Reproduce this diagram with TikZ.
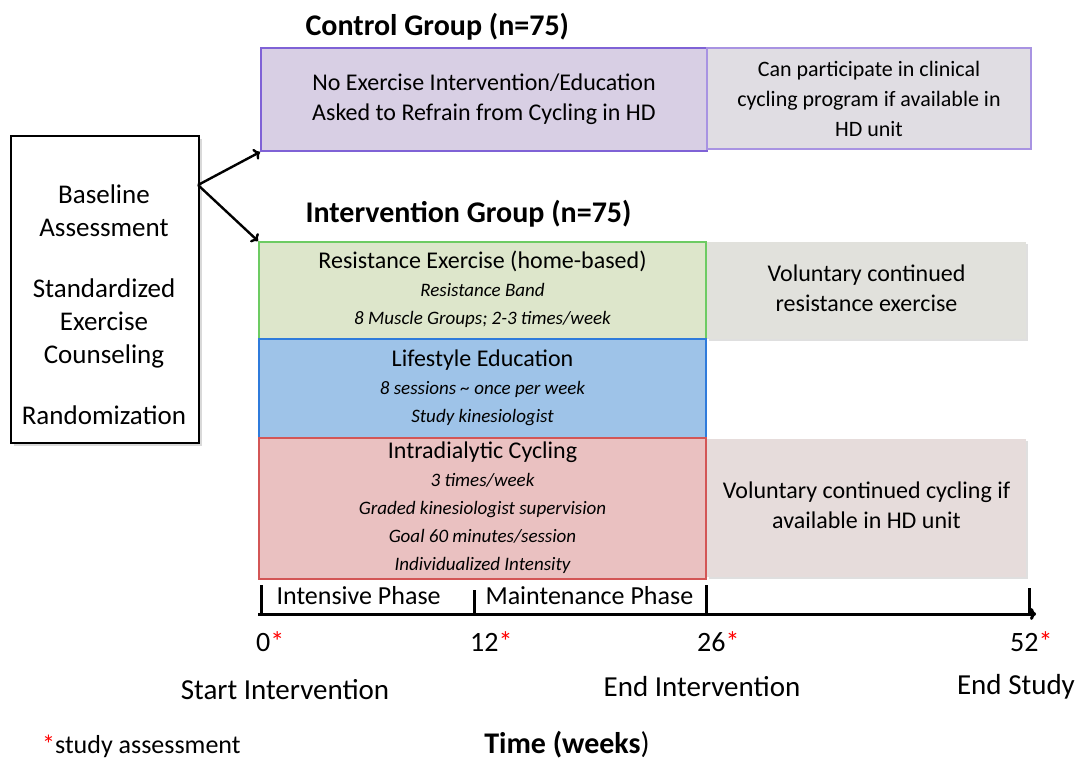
\documentclass[tikz,border=0pt]{standalone}
\usepackage{fontspec}
\setmainfont{Carlito}
\usepackage{tikz}
\usetikzlibrary{shapes,arrows,arrows.meta,shadows}
\definecolor{ctrlfill}{HTML}{D8CFE4}
\definecolor{ctrldraw}{HTML}{7F62D6}
\definecolor{optfill}{HTML}{E0DDE3}
\definecolor{optdraw}{HTML}{A893E2}
\definecolor{resfill}{HTML}{DDE6CB}
\definecolor{resdraw}{HTML}{6DCB63}
\definecolor{edufill}{HTML}{9EC3E8}
\definecolor{edudraw}{HTML}{2F7BDB}
\definecolor{cycfill}{HTML}{EAC1C1}
\definecolor{cycdraw}{HTML}{D35656}
\definecolor{volfill}{HTML}{E1E1DC}
\definecolor{vol2fill}{HTML}{E6DCDB}
\tikzstyle{arrow} = [line width=2.4pt,-{To[length=6pt,width=12pt]}]
\tikzstyle{box} = [rectangle, anchor=north west, align=center, inner sep=0pt, line width=2pt]
\tikzstyle{after} = [box, drop shadow={opacity=0.25,shadow xshift=2pt,shadow yshift=-2pt}]
\tikzstyle{tick} = [line width=3pt]
\newcommand{\bodyf}{\fontsize{24}{29}\selectfont\strut}
\newcommand{\subf}{\fontsize{19}{27}\selectfont\itshape\strut}
\newcommand{\rstar}{\textcolor{red}{*}}

\begin{document}
\begin{tikzpicture}[x=1pt,y=-1pt]
        \useasboundingbox (0,0) rectangle (1080,761);

        % left box
        \node (base) [box, minimum width=188pt, minimum height=307pt, draw=black, fill=white,
            drop shadow={opacity=0.3,shadow xshift=3pt,shadow yshift=-3pt}] at (10,135) {};
        \node (basetxt) [align=center, font=\fontsize{27}{33}\selectfont] at (104,305) {Baseline\\Assessment\\[28pt]Standardized\\Exercise\\Counseling\\[28pt]Randomization};
        \coordinate (split) at (198,185);

        % control group
        \node (ctrltitle) [anchor=west, font=\fontsize{30}{36}\selectfont\bfseries] at (302,27) {Control Group (n=75)};
        \node (ctrl) [box, minimum width=446pt, minimum height=103pt, draw=ctrldraw, fill=ctrlfill] at (260,47) {\bodyf No Exercise Intervention/Education\\\bodyf Asked to Refrain from Cycling in HD};
        \node (ctrlopt) [box, minimum width=324pt, minimum height=101pt, draw=optdraw, fill=optfill, font=\fontsize{22}{30}\selectfont] at (706,47) {Can participate in clinical\\cycling program if available in\\HD unit};

        % intervention group
        \node (inttitle) [anchor=west, font=\fontsize{30}{36}\selectfont\bfseries] at (302,214) {Intervention Group (n=75)};
        \node (res) [box, minimum width=447pt, minimum height=97pt, draw=resdraw, fill=resfill] at (258,241) {\bodyf Resistance Exercise (home-based)\\\subf Resistance Band\\\subf 8 Muscle Groups; 2-3 times/week};
        \node (edu) [box, minimum width=447pt, minimum height=99pt, draw=edudraw, fill=edufill] at (258,338) {\bodyf Lifestyle Education\\\subf 8 sessions \textasciitilde{} once per week\\\subf Study kinesiologist};
        \node (cyc) [box, minimum width=447pt, minimum height=138pt, draw=cycdraw, fill=cycfill] at (258,437) {\bodyf Intradialytic Cycling\\\subf 3 times/week\\\subf Graded kinesiologist supervision\\\subf Goal 60 minutes/session\\\subf Individualized Intensity};
        \node (resopt) [after, minimum width=319pt, minimum height=97pt, fill=volfill] at (706,241) {\bodyf Voluntary continued\\\bodyf resistance exercise};
        \node (cycopt) [after, minimum width=319pt, minimum height=138pt, fill=vol2fill] at (706,438) {\bodyf Voluntary continued cycling if\\\bodyf available in HD unit};

        \draw[arrow] (split) -- (ctrl.south west);
        \draw[arrow] (split) -- (res.north west);

        % time line
        \coordinate (w0) at (258,614);
        \coordinate (w52) at (1036,614);
        \coordinate (k0) at (261,585);
        \coordinate (k12) at (474,590);
        \coordinate (k26) at (706,585);
        \coordinate (k52) at (1029,588);
        \draw[tick,-{To[length=6pt,width=12pt]}] (w0) -- (w52);
        \draw[tick] (k0) -- (k0 |- w0);
        \draw[tick] (k12) -- (k12 |- w0);
        \draw[tick] (k26) -- (k26 |- w0);
        \draw[tick] (k52) -- (k52 |- w0);
        \node (ph1) [anchor=west, font=\fontsize{26}{30}\selectfont] at (273,596) {Intensive Phase};
        \node (ph2) [anchor=west, font=\fontsize{26}{30}\selectfont] at (482,596) {Maintenance Phase};

        \node (n0) [anchor=west, inner sep=0pt, font=\fontsize{28}{32}\selectfont] at (256,642) {0\rstar};
        \node (n12) [anchor=west, inner sep=0pt, font=\fontsize{28}{32}\selectfont] at (470,642) {12\rstar};
        \node (n26) [anchor=west, inner sep=0pt, font=\fontsize{28}{32}\selectfont] at (697,642) {26\rstar};
        \node (n52) [anchor=west, inner sep=0pt, font=\fontsize{28}{32}\selectfont] at (1010,642) {52\rstar};
        \node (start) [font=\fontsize{29}{33}\selectfont] at (285,690) {Start Intervention};
        \node (end) [font=\fontsize{29}{33}\selectfont] at (702,687) {End Intervention};
        \node (endst) [font=\fontsize{29}{33}\selectfont] at (1016,687) {End Study};

        \node (note) [anchor=west, inner sep=0pt, font=\fontsize{26}{30}\selectfont] at (42,746) {\rstar study assessment};
        \node (time) [font=\fontsize{30}{36}\selectfont] at (567,745) {\textbf{Time (weeks})};
    \end{tikzpicture}
\end{document}
